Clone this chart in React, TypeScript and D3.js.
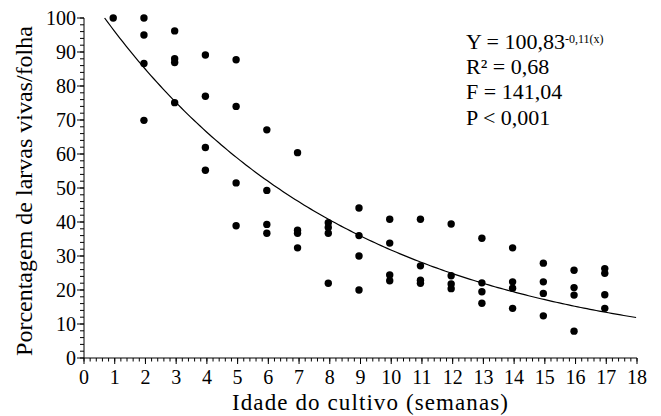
import * as d3 from "d3";
import { useEffect, useRef } from "react";

// weeks and observed % of live larvae per leaf
const weeks = [
  1, 2, 2, 2, 2, 3, 3, 3, 3, 4, 4, 4, 4, 5, 5, 5, 5, 6, 6, 6, 6, 7, 7, 7, 7,
  8, 8, 8, 8, 9, 9, 9, 9, 10, 10, 10, 10, 11, 11, 11, 11, 12, 12, 12, 12,
  13, 13, 13, 13, 14, 14, 14, 14, 15, 15, 15, 15, 16, 16, 16, 16, 17, 17, 17, 17,
];
const larvae = [
  100, 100, 95, 86.6, 69.9, 96.2, 88, 86.9, 75.1, 89.1, 77, 61.9, 55.2,
  87.7, 74, 51.5, 38.9, 67.1, 49.3, 39.3, 36.7, 60.4, 37.6, 36.7, 32.4,
  39.8, 38.4, 36.7, 22, 44.1, 36, 30, 20, 40.8, 33.8, 24.4, 22.7,
  40.8, 27.1, 22.9, 22, 39.4, 24.2, 21.8, 20.4, 35.2, 22.1, 19.5, 16.1,
  32.4, 22.4, 20.5, 14.6, 27.9, 22.4, 19, 12.4, 25.8, 20.7, 18.5, 7.9,
  26.3, 24.9, 18.6, 14.6,
];
const xTicks = d3.range(0, 19);
const yTicks = d3.range(0, 101, 10);
const statLines = ["R\u00b2 = 0,68", "F = 141,04", "P < 0,001"];

// fitted curve as drawn
const fitA = 108.6;
const fitB = 0.123;

export default function App() {
  const svgRef = useRef<SVGSVGElement>(null);

  useEffect(() => {
    const w = 661;
    const h = 416;
    const svg = d3.select(svgRef.current).attr("width", w).attr("height", h);
    svg.selectAll("*").remove();

    const x = d3.scaleLinear().domain([0, 18]).range([84, 637]);
    const y = d3.scaleLinear().domain([0, 100]).range([358, 18]);
    const font = "Liberation Serif";

    //axes
    const gx = svg.append("g").attr("transform", `translate(0, ${y(0)})`);
    gx.append("line").attr("x1", x(0)).attr("x2", x(18)).attr("stroke", "#000");
    gx.selectAll(".minor")
      .data(d3.range(0, 18.01, 0.2))
      .join("line")
      .attr("x1", (d) => x(d))
      .attr("x2", (d) => x(d))
      .attr("y2", 3.5)
      .attr("stroke", "#000");
    gx.selectAll(".major")
      .data(xTicks)
      .join("line")
      .attr("x1", (d) => x(d))
      .attr("x2", (d) => x(d))
      .attr("y2", 6)
      .attr("stroke", "#000");
    gx.selectAll("text")
      .data(xTicks)
      .join("text")
      .attr("x", (d) => x(d))
      .attr("y", 26)
      .attr("text-anchor", "middle")
      .style("font-family", font)
      .style("font-size", "20px")
      .text((d) => d);

    const gy = svg.append("g").attr("transform", `translate(${x(0)}, 0)`);
    gy.append("line").attr("y1", y(0)).attr("y2", y(100)).attr("stroke", "#000");
    gy.selectAll(".minor")
      .data(d3.range(0, 100.01, 2))
      .join("line")
      .attr("y1", (d) => y(d))
      .attr("y2", (d) => y(d))
      .attr("x2", -4)
      .attr("stroke", "#000");
    gy.selectAll(".major")
      .data(yTicks)
      .join("line")
      .attr("y1", (d) => y(d))
      .attr("y2", (d) => y(d))
      .attr("x2", -7)
      .attr("stroke", "#000");
    gy.selectAll("text")
      .data(yTicks)
      .join("text")
      .attr("x", -8)
      .attr("y", (d) => y(d) + 6.5)
      .attr("text-anchor", "end")
      .style("font-family", font)
      .style("font-size", "20px")
      .text((d) => d);

    //axis titles
    svg.append("text")
      .attr("x", 232)
      .attr("y", 410)
      .attr("textLength", 276)
      .attr("lengthAdjust", "spacing")
      .style("font-family", font)
      .style("font-size", "23px")
      .text("Idade do cultivo (semanas)");
    svg.append("text")
      .attr("transform", `translate(32, 191) rotate(-90)`)
      .attr("text-anchor", "middle")
      .style("font-family", font)
      .style("font-size", "24px")
      .text("Porcentagem de larvas vivas/folha");

    //fitted curve
    const x0 = Math.log(fitA / 100) / fitB;
    const curve = d3.range(x0, 18.001, 0.1).map((v) => [v, fitA * Math.exp(-fitB * v)]);
    svg.append("path")
      .datum(curve)
      .attr("fill", "none")
      .attr("stroke", "#000")
      .attr("stroke-width", 1.2)
      .attr("d", d3.line().x((d) => x(d[0])).y((d) => y(d[1])));

    //points
    svg.selectAll(".pt")
      .data(larvae)
      .join("circle")
      .attr("cx", (d, i) => x(weeks[i]) - 1.5)
      .attr("cy", (d) => y(d))
      .attr("r", 3.7)
      .attr("fill", "#000");

    //stats
    const eq = svg.append("text")
      .attr("x", 466)
      .attr("y", 49)
      .style("font-family", font)
      .style("font-size", "22px");
    eq.append("tspan").text("Y = 100,83");
    eq.append("tspan").style("font-size", "12px").attr("dy", -6).text("-0,11(x)");
    svg.selectAll(".stat")
      .data(statLines)
      .join("text")
      .attr("x", 466)
      .attr("y", (d, i) => 74 + i * 25.3)
      .style("font-family", font)
      .style("font-size", "22px")
      .text((d) => d);
  }, []);

  return (
    <div style={{ position: "absolute", left: 0, top: 0 }}>
      <svg ref={svgRef}></svg>
    </div>
  );
}
